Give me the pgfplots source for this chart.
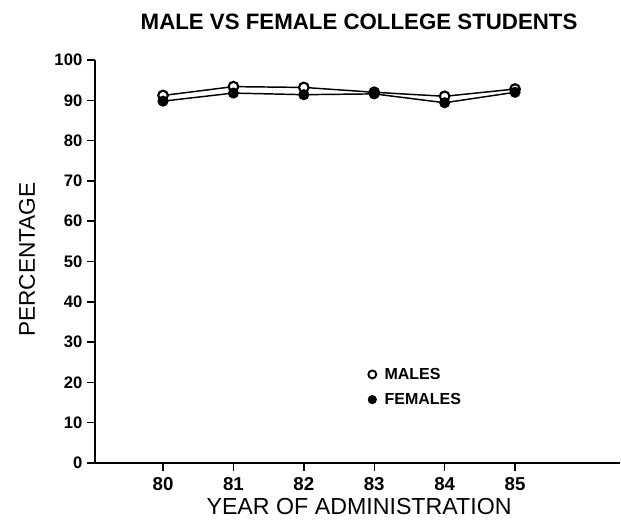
\documentclass[border=0pt]{standalone}
\usepackage{fontspec}
\setmainfont{Liberation Sans}
\usepackage{pgfplots}
\pgfplotsset{compat=1.18}
\begin{document}
\begin{tikzpicture}
\begin{axis}[
  scale only axis,
  width=393.75pt, height=302.25pt,
  xmin=79.034, xmax=86.49,
  ymin=0, ymax=100,
  axis x line*=bottom, axis y line*=left,
  axis line style={line width=1.1pt, -},
  xtick={80,81,82,83,84,85},
  ytick={0,10,...,100},
  tick style={line width=1.1pt, black},
  tick align=outside,
  major tick length=6pt,
  /pgf/number format/assume math mode=true,
  /pgf/number format/1000 sep={},
  xticklabel style={font=\fontsize{14}{14}\selectfont\bfseries, yshift=-1pt},
  yticklabel style={font=\fontsize{12.5}{12.5}\selectfont\bfseries},
  title={\textbf{MALE VS FEMALE COLLEGE STUDENTS}},
  title style={font=\fontsize{16.7}{17}\selectfont, at={(rel axis cs:0.503,1.094)}, anchor=center, yshift=-6pt},
  xlabel={YEAR OF ADMINISTRATION},
  xlabel style={font=\fontsize{17.4}{18}\selectfont, at={(rel axis cs:0.503,-0.109)}, anchor=center},
  ylabel={PERCENTAGE},
  ylabel style={font=\fontsize{17}{17}\selectfont, at={(rel axis cs:-0.1295,0.505)}, anchor=center},
  clip=false,
  legend style={draw=none, fill=none, font=\fontsize{12}{12}\selectfont\bfseries,
    at={(rel axis cs:0.512,0.25)}, anchor=north west, row sep=5pt, column sep=4pt},
  legend cell align=left,
]
\addplot[black, line width=1.1pt, mark=*, mark size=3.6pt, mark options={fill=white, line width=1.6pt}, forget plot]
  coordinates {(80,91.2) (81,93.4) (82,93.2) (83,92.0) (84,91.0) (85,92.8)};
\addplot[black, line width=1.1pt, mark=*, mark size=3.6pt, mark options={fill=black}, forget plot]
  coordinates {(80,89.8) (81,91.8) (82,91.4) (83,91.6) (84,89.4) (85,92.0)};
\addlegendimage{only marks, mark=*, mark size=3pt, mark options={fill=white, line width=1.4pt}}
\addlegendentry{MALES}
\addlegendimage{only marks, mark=*, mark size=3.2pt, mark options={fill=black}}
\addlegendentry{FEMALES}
\path (rel axis cs:-0.181,-0.1365) rectangle (rel axis cs:1.002,1.149);
\end{axis}
\end{tikzpicture}
\end{document}
